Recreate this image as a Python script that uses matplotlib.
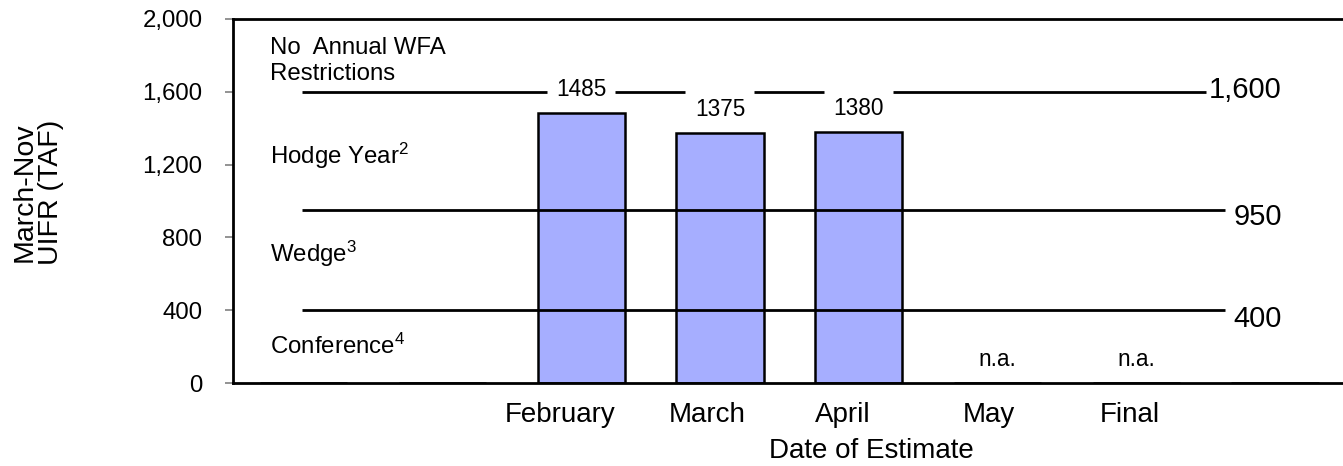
import numpy as np
import matplotlib
matplotlib.use("Agg")
from matplotlib import pyplot as plt

plt.rcParams['font.family'] = ['Liberation Sans', 'DejaVu Sans']
plt.rcParams['mathtext.fontset'] = 'custom'
plt.rcParams['mathtext.rm'] = 'Liberation Sans'
plt.rcParams['mathtext.default'] = 'regular'

# categories (empty slots on both sides, like the original sheet)
months = ['', '', 'February', 'March', 'April', 'May', 'Final', '']
uifr = [np.nan, np.nan, 1485, 1375, 1380, np.nan, np.nan, np.nan]
value_labels = ['', '', '1485', '1375', '1380', 'n.a.', 'n.a.', '']

# WFA threshold lines
thresholds = [1600, 950, 400]
threshold_labels = ['1,600', '950', '400']
zone_names = ['No  Annual WFA\nRestrictions', 'Hodge Year$^{2}$',
              'Wedge$^{3}$', 'Conference$^{4}$']
zone_y = [1770, 1250, 710, 200]

yticks = [0, 400, 800, 1200, 1600, 2000]
# the sheet's category labels sit a little left of the bars
label_shift = [-0.155, -0.09, -0.115, -0.06, -0.05]

fig = plt.figure(figsize=(13.43, 4.66), dpi=100)
ax = fig.add_axes([233 / 1343, (466 - 383) / 466, 1110 / 1343, 364 / 466])

x = np.arange(len(months))
heights = np.nan_to_num(np.array(uifr, dtype=float))
ax.bar(x, heights, width=0.63, color='#A6AEFF', edgecolor='black',
       linewidth=1.8, zorder=2)

# value labels above bars (n.a. for missing)
for xi, h, lab in zip(x, heights, value_labels):
    if lab:
        ax.annotate(lab, (xi, h), xytext=(0, 17), textcoords='offset points',
                    ha='center', va='center', fontsize=16.3)

# threshold lines; top one is broken around the value labels
bar_idx = [i for i, v in enumerate(uifr) if not np.isnan(v)]
edges = [-0.015]
for i in bar_idx:
    edges += [i - 0.25, i + 0.245]
edges.append(6.5)
for a, b in zip(edges[0::2], edges[1::2]):
    ax.plot([a, b], [thresholds[0], thresholds[0]], color='black', lw=2, zorder=3,
            solid_capstyle='butt')
for t in thresholds[1:]:
    ax.plot([-0.015, 6.64], [t, t], color='black', lw=2, zorder=3,
            solid_capstyle='butt')

offsets = [1, -5, -6]
for t, lab, off in zip(thresholds, threshold_labels, offsets):
    ax.annotate(lab, (7.05, t), xytext=(0, off), textcoords='offset points',
                ha='right', va='center', fontsize=21)

for name, zy in zip(zone_names, zone_y):
    ax.text(-0.245, zy, name, ha='left', va='center', fontsize=17.3,
            linespacing=1.2)

ax.set_xlim(-0.51, 7.49)
ax.set_ylim(0, 2000)
ax.set_yticks(yticks)
ax.set_yticklabels(['{:,}'.format(v) for v in yticks], fontsize=17.3)
ax.set_xticks(x[2:7] + np.array(label_shift))
ax.set_xticklabels(months[2:7], fontsize=20)
ax.tick_params(axis='x', length=0, pad=14)
ax.tick_params(axis='y', length=6, width=1.2, color='#808080', pad=16)

for s in ['left', 'bottom', 'top']:
    ax.spines[s].set_linewidth(2)
ax.spines['right'].set_visible(False)

ax.text(0.575, -0.187, 'Date of Estimate', transform=ax.transAxes,
        ha='center', va='center', fontsize=20)
ax.text(-0.176, 0.525, 'March-Nov\nUIFR (TAF)', transform=ax.transAxes,
        ha='center', va='center', rotation=90, fontsize=20.5, linespacing=1.0)

fig.savefig('out.png', dpi=100)
